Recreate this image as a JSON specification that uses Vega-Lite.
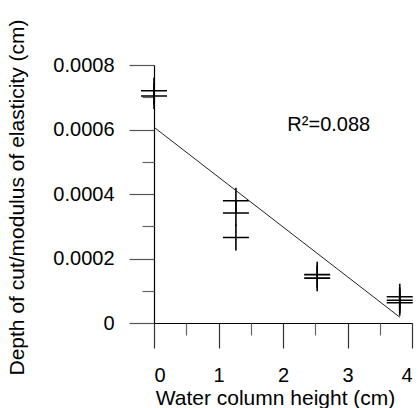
{
  "$schema": "https://vega.github.io/schema/vega-lite/v6.json",
  "width": 258,
  "height": 258,
  "autosize": {"type": "none"},
  "padding": {"left": 154, "top": 65, "right": 6, "bottom": 85},
  "background": "white",
  "config": {
    "view": {"stroke": null},
    "font": "Liberation Sans",
    "axis": {
      "labelFont": "Liberation Sans",
      "titleFont": "Liberation Sans",
      "labelFontSize": 20,
      "titleFontSize": 21,
      "titleFontWeight": "normal",
      "labelColor": "black",
      "titleColor": "black",
      "domainColor": "black",
      "domainWidth": 1.2,
      "tickWidth": 1.2,
      "grid": false
    }
  },
  "datasets": {
    "points": [
      {"height": 0, "depth": 0.00072},
      {"height": 0, "depth": 0.000704},
      {"height": 1.27, "depth": 0.000379},
      {"height": 1.27, "depth": 0.000341},
      {"height": 1.27, "depth": 0.000265},
      {"height": 2.53, "depth": 0.00015},
      {"height": 2.53, "depth": 0.000139},
      {"height": 3.81, "depth": 0.0000815},
      {"height": 3.81, "depth": 0.0000706},
      {"height": 3.81, "depth": 0.0000629}
    ],
    "fit": [
      {"height": 0, "depth": 0.000607},
      {"height": 3.815, "depth": 0.0000173}
    ],
    "note": [
      {"height": 2.71, "depth": 0.000614, "label": "R²=0.088"}
    ]
  },
  "layer": [
    {
      "data": {"name": "points"},
      "mark": {
        "type": "point",
        "shape": "M-1,0L1,0M0,-1L0,1",
        "size": 676,
        "filled": false,
        "stroke": "black",
        "strokeWidth": 1.6,
        "opacity": 1
      },
      "encoding": {
        "x": {
          "field": "height",
          "type": "quantitative",
          "scale": {"domain": [0, 4], "nice": false, "zero": false},
          "axis": {
            "orient": "bottom",
            "values": [0, 1, 2, 3, 4],
            "tickSize": 25,
            "tickColor": "#333",
            "labelPadding": 17,
            "title": "Water column height (cm)",
            "titlePadding": 2,
            "titleX": 121
          }
        },
        "y": {
          "field": "depth",
          "type": "quantitative",
          "scale": {"domain": [0, 0.0008], "nice": false, "zero": false},
          "axis": {
            "orient": "left",
            "values": [0, 0.0002, 0.0004, 0.0006, 0.0008],
            "format": ".4~f",
            "tickSize": 25,
            "tickColor": "#555",
            "labelPadding": 15,
            "title": "Depth of cut/modulus of elasticity (cm)",
            "titlePadding": 25,
            "titleY": 132
          }
        }
      }
    },
    {
      "data": {"name": "fit"},
      "mark": {"type": "line", "stroke": "#222", "strokeWidth": 1},
      "encoding": {
        "x": {
          "field": "height",
          "type": "quantitative",
          "axis": {
            "orient": "bottom",
            "values": [0.5, 1.5, 2.5, 3.5],
            "tickSize": 12,
            "tickColor": "#666",
            "labels": false,
            "domain": false,
            "title": null
          }
        },
        "y": {
          "field": "depth",
          "type": "quantitative",
          "axis": {
            "orient": "left",
            "values": [0.0001, 0.0003, 0.0005, 0.0007],
            "tickSize": 12,
            "tickColor": "#666",
            "labels": false,
            "domain": false,
            "title": null
          }
        }
      }
    },
    {
      "data": {"name": "note"},
      "mark": {"type": "text", "font": "Liberation Sans", "fontSize": 20, "color": "black", "align": "center", "baseline": "middle"},
      "encoding": {
        "x": {"field": "height", "type": "quantitative", "axis": null},
        "y": {"field": "depth", "type": "quantitative", "axis": null},
        "text": {"field": "label"}
      }
    }
  ],
  "resolve": {"axis": {"x": "independent", "y": "independent"}}
}
